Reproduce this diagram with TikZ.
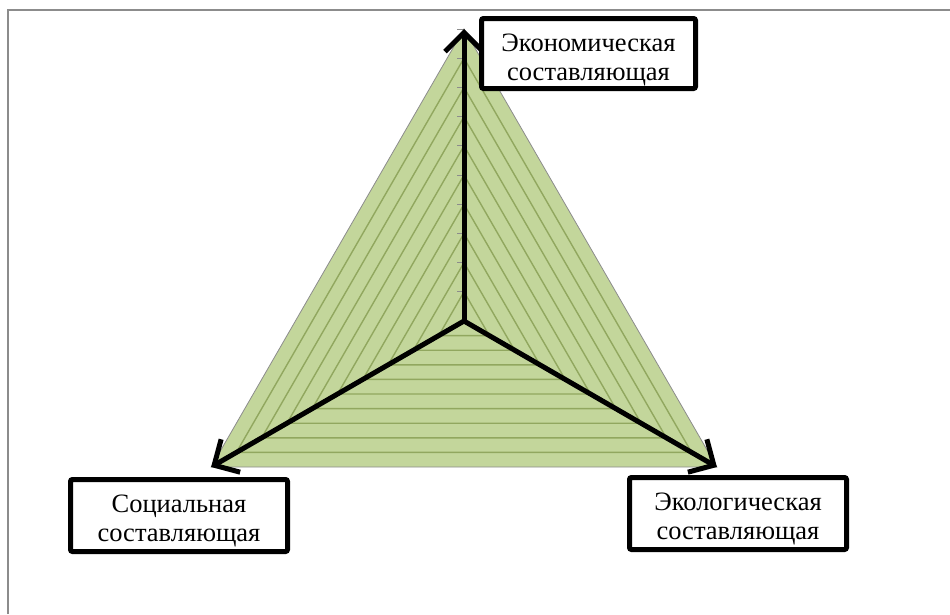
\documentclass[tikz,border=0pt]{standalone}
\usepackage{fontspec}
\setmainfont{Liberation Serif}
\usetikzlibrary{arrows.meta}
\definecolor{fillg}{RGB}{195,214,155}
\definecolor{gridg}{RGB}{145,167,95}
\definecolor{frameg}{RGB}{140,140,140}
\tikzset{
  labelbox/.style={draw=black, fill=white, line width=5pt, rounded corners=2pt,
    align=center, font=\fontsize{26.5}{29}\selectfont, inner sep=0pt},
  axisarrow/.style={line width=5pt, -{Straight Barb[length=19pt,width=38pt]}},
  gridline/.style={gridg, line width=1.4pt},
  tick/.style={frameg, line width=1pt}
}
\begin{document}
\begin{tikzpicture}[x=1pt,y=-1pt]
\useasboundingbox (0,0) rectangle (950,614);
\draw[frameg, line width=2.5pt] (8,614) -- (8,10) -- (950,10);
\coordinate (O) at (464,321);
\coordinate (A) at (464,29);
\coordinate (B) at (211.1,467);
\coordinate (C) at (716.9,467);
\fill[fillg] (A) -- (B) -- (C) -- cycle;
\begin{scope}[shift={(464,321)}]
  \foreach \k in {1,...,9}
    \draw[gridline] (0,-29.2*\k) -- (-25.29*\k,14.6*\k) -- (25.29*\k,14.6*\k) -- cycle;
  \foreach \k in {1,...,10}
    \draw[tick] (-7,-29.2*\k) -- (0,-29.2*\k);
\end{scope}
\draw[frameg, line width=0.8pt] (A) -- (B) -- (C) -- cycle;
\draw[axisarrow] (O) -- (A);
\draw[axisarrow] (O) -- (B);
\draw[axisarrow] (O) -- (C);
\node[labelbox, minimum width=214pt, minimum height=70pt] (econ) at (588.5,53.5) {\rule{0pt}{31pt}Экономическая\\составляющая};
\node[labelbox, minimum width=217pt, minimum height=72pt] (soc) at (179,515.5) {\rule{0pt}{28pt}Социальная\\составляющая};
\node[labelbox, minimum width=217pt, minimum height=72pt] (eco) at (738,513.5) {\rule{0pt}{28pt}Экологическая\\составляющая};
\end{tikzpicture}
\end{document}
